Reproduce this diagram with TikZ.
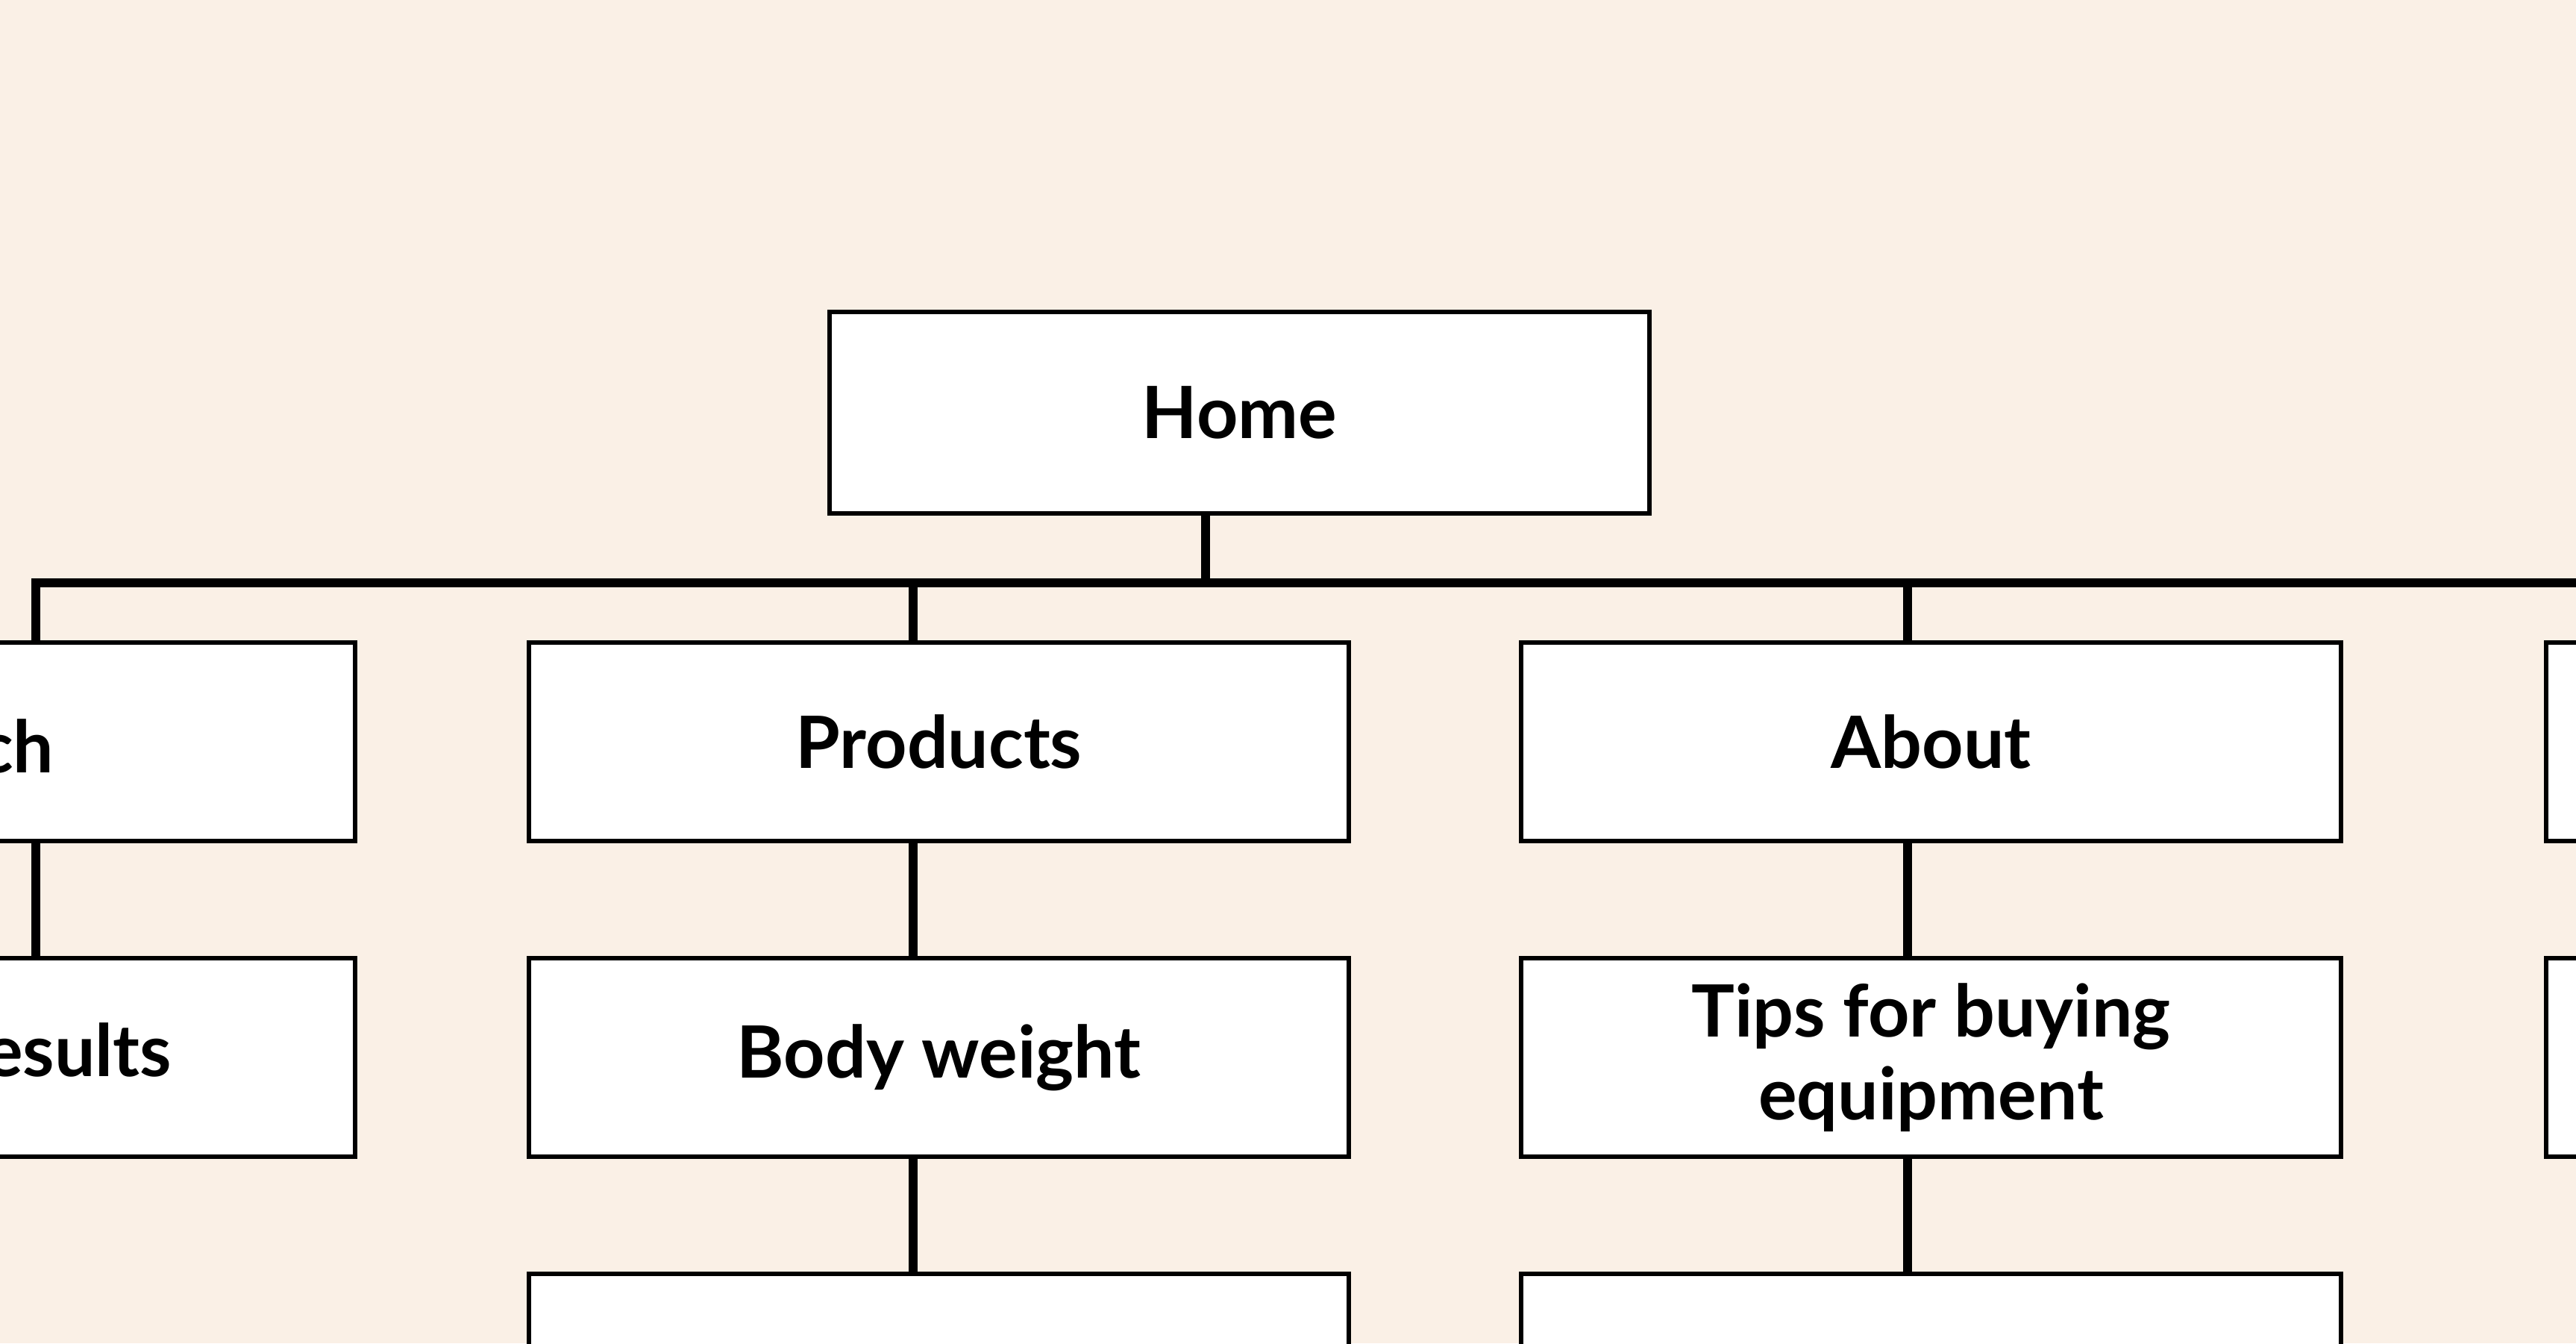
\documentclass[tikz,border=0pt]{standalone}
\usepackage{fontspec}
\setmainfont{Lato}
\usepackage{tikz}
\usetikzlibrary{positioning,calc}
\definecolor{pageBeige}{HTML}{FAF0E6}

\begin{document}
\begin{tikzpicture}[font=\fontsize{27.5}{31.5}\selectfont\bfseries,
  page/.style={draw=black, line width=1.7pt, fill=white, minimum width=10.99cm, minimum height=2.66cm, inner sep=0pt, align=center},
  link/.style={line width=3.2pt}]
% frame 3453 x 1800 px, 1cm = 100px
\fill[pageBeige] (0,0) rectangle (34.53,-18);
\useasboundingbox (0,0) rectangle (34.53,-18);
\clip (0,0) rectangle (34.53,-18);
% ---------- top ----------
\node[page, minimum height=2.7cm] (home) at (16.615,-5.53) {Home};
% ---------- row 2 ----------
\node[page] (search) at (-0.735,-9.94) {};
\node[page] (products) at (12.585,-9.94) {Products};
\node[page] (about) at (25.885,-9.94) {About};
\node[page] (rightA) at (39.625,-9.94) {};
% ---------- row 3 ----------
\node[page] (results) at (-0.735,-14.17) {};
\node[page] (bodyweight) at (12.585,-14.17) {Body weight};
\node[page] (tips) at (25.885,-14.17) {Tips for buying\\equipment};
\node[page] (rightB) at (39.625,-14.17) {};
% ---------- row 4 ----------
\node[page] (prodnext) at (12.585,-18.4) {};
\node[page] (aboutnext) at (25.885,-18.4) {};
% cut-off labels on the left column
\node[anchor=base east, inner sep=0pt] (searchtxt) at (0.73,-10.35) {ch};
\node[anchor=base east, inner sep=0pt] (resultstxt) at (2.31,-14.42) {esults};
% ---------- connectors ----------
\coordinate (busend) at (35,-7.81);
\coordinate (hx) at ($(home.south)+(-0.455,0)$);
\coordinate (sx) at ($(search.north)+(1.215,0)$);
\coordinate (px) at ($(products.north)+(-0.345,0)$);
\coordinate (ax) at ($(about.north)+(-0.315,0)$);
\draw[link] (hx) -- (hx |- busend);
\draw[link] (sx) |- (busend);
\draw[link] (px |- busend) -- (px);
\draw[link] (ax |- busend) -- (ax);
\draw[link] (search.south -| sx) -- (results.north -| sx);
\draw[link] (products.south -| px) -- (bodyweight.north -| px);
\draw[link] (bodyweight.south -| px) -- (prodnext.north -| px);
\draw[link] (about.south -| ax) -- (tips.north -| ax);
\draw[link] (tips.south -| ax) -- (aboutnext.north -| ax);
\end{tikzpicture}
\end{document}
